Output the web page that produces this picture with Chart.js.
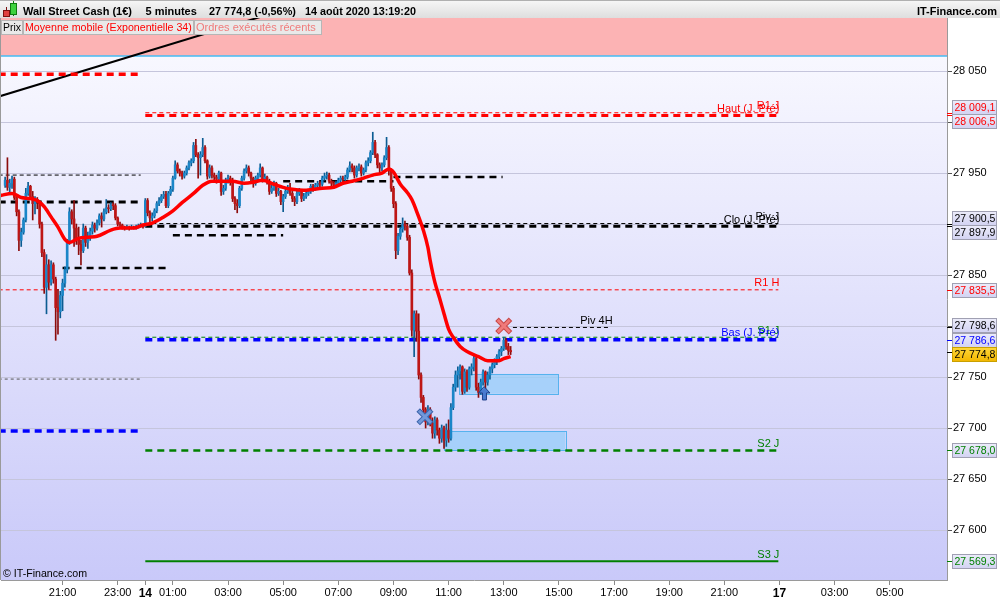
<!DOCTYPE html>
<html lang="fr">
<head>
<meta charset="UTF-8">
<title>Wall Street Cash (1€) - 5 minutes</title>
<script src="https://cdn.jsdelivr.net/npm/chart.js@4.4.1/dist/chart.umd.min.js"></script>
<style>
  body { margin: 0; background: #fff; }
  #wrap { position: relative; width: 1000px; height: 600px; }
</style>
</head>
<body>
<div id="wrap"><canvas id="chart"></canvas></div>
<script>
// time axis: 5-minute slots, slot 0 = jeudi 21:00
const firstSlot = -25;
const firstOpen = 27938;

const closes = [
  27943, 27936, 27940, 27944, 27926, 27912, 27884, 27892, 27904, 27930, 27937, 27927, 27920, 27924, 27921, 27900, 27872, 27838, 27860, 27843, 27860, 27846, 27818, 27814, 27830,
  27842, 27855, 27882, 27912, 27905, 27896, 27885, 27880, 27874, 27896, 27882, 27888,
  27893, 27899, 27896, 27901, 27908, 27905, 27912, 27916, 27915, 27919, 27918, 27906,
  27900, 27899, 27897, 27896, 27897, 27896, 27897, 27896, 27897, 27898, 27899, 27898,
  27923, 27911, 27906, 27908, 27913, 27920, 27923, 27927, 27929, 27918, 27930, 27934,
  27945, 27958, 27952, 27950, 27947, 27950, 27955, 27960, 27962, 27977, 27968, 27965,
  27968, 27975, 27962, 27947, 27955, 27948, 27946, 27944, 27950, 27932, 27935, 27943,
  27945, 27942, 27925, 27920, 27918, 27935, 27945, 27952, 27955, 27950, 27945, 27940,
  27945, 27948, 27955, 27944, 27946, 27942, 27932, 27935, 27940, 27930, 27932, 27922,
  27927, 27932, 27935, 27930, 27925, 27922, 27930, 27932, 27925, 27927, 27930, 27932,
  27937, 27935, 27938, 27940, 27939, 27945, 27947, 27948, 27942, 27940, 27938, 27940,
  27943, 27945, 27944, 27946, 27953, 27957, 27955, 27948, 27955, 27956, 27950, 27953,
  27960, 27962, 27970, 27980, 27968, 27958, 27955, 27958, 27965, 27975, 27952, 27935,
  27920, 27874, 27888, 27895, 27900, 27898, 27887, 27852, 27796, 27812, 27795, 27752,
  27730, 27718, 27706, 27718, 27705, 27695, 27708, 27698, 27690, 27700, 27688, 27698,
  27690, 27720, 27740, 27752, 27756, 27760, 27736, 27755, 27740, 27758, 27760, 27768,
  27740, 27735, 27745, 27755, 27745, 27752, 27758, 27762, 27765, 27770, 27775, 27778,
  27786, 27780, 27776, 27774.8
];
const highs = [
  27946, 27965, 27944, 27947, 27946, 27928, 27914, 27896, 27906, 27935, 27941, 27938, 27932, 27927, 27926, 27923, 27902, 27875, 27870, 27865, 27864, 27862, 27848, 27836, 27834,
  27846, 27858, 27885, 27916, 27914, 27923, 27900, 27897, 27884, 27900, 27898, 27892,
  27896, 27902, 27901, 27904, 27910, 27911, 27915, 27924, 27919, 27921, 27921, 27920,
  27907, 27902, 27900, 27898, 27899, 27898, 27899, 27898, 27899, 27900, 27901, 27900,
  27925, 27925, 27913, 27911, 27915, 27922, 27926, 27929, 27932, 27932, 27932, 27937,
  27947, 27962, 27960, 27954, 27952, 27952, 27957, 27962, 27964, 27980, 27983, 27970,
  27971, 27984, 27977, 27963, 27958, 27957, 27950, 27948, 27952, 27951, 27938, 27945,
  27948, 27947, 27945, 27927, 27924, 27937, 27947, 27954, 27958, 27957, 27951, 27946,
  27947, 27950, 27959, 27956, 27949, 27947, 27944, 27938, 27942, 27941, 27935, 27933,
  27929, 27934, 27938, 27940, 27932, 27927, 27932, 27935, 27933, 27930, 27933, 27934,
  27939, 27939, 27940, 27942, 27942, 27947, 27950, 27951, 27950, 27944, 27942, 27942,
  27945, 27947, 27947, 27948, 27955, 27961, 27959, 27957, 27957, 27959, 27958, 27955,
  27962, 27965, 27972, 27990, 27982, 27969, 27960, 27960, 27967, 27985, 27977, 27954,
  27937, 27922, 27891, 27897, 27906, 27903, 27900, 27889, 27855, 27815, 27815, 27812,
  27754, 27732, 27720, 27722, 27720, 27710, 27711, 27710, 27700, 27703, 27702, 27704,
  27708, 27724, 27743, 27756, 27760, 27762, 27761, 27758, 27757, 27760, 27763, 27771,
  27770, 27744, 27748, 27757, 27756, 27755, 27760, 27764, 27768, 27772, 27777, 27780,
  27789, 27788, 27783, 27780
];
const lows = [
  27936, 27933, 27930, 27935, 27924, 27908, 27874, 27878, 27890, 27902, 27928, 27924, 27904, 27910, 27915, 27896, 27868, 27832, 27812, 27836, 27840, 27842, 27786, 27792, 27808,
  27815, 27838, 27852, 27880, 27900, 27878, 27880, 27870, 27860, 27872, 27878, 27876,
  27884, 27890, 27892, 27894, 27899, 27897, 27903, 27910, 27911, 27913, 27914, 27904,
  27898, 27896, 27895, 27894, 27895, 27894, 27895, 27895, 27895, 27896, 27897, 27896,
  27897, 27908, 27902, 27903, 27906, 27911, 27918, 27921, 27925, 27916, 27916, 27928,
  27932, 27944, 27950, 27947, 27944, 27945, 27948, 27953, 27957, 27960, 27966, 27945,
  27948, 27966, 27960, 27944, 27945, 27945, 27942, 27940, 27942, 27928, 27929, 27933,
  27940, 27938, 27922, 27914, 27911, 27916, 27933, 27943, 27950, 27947, 27942, 27936,
  27938, 27943, 27946, 27941, 27942, 27939, 27929, 27930, 27933, 27927, 27928, 27919,
  27912, 27925, 27930, 27928, 27922, 27918, 27920, 27928, 27922, 27923, 27925, 27928,
  27930, 27932, 27933, 27936, 27936, 27937, 27943, 27944, 27940, 27937, 27935, 27936,
  27938, 27940, 27941, 27942, 27944, 27951, 27951, 27945, 27946, 27952, 27947, 27948,
  27951, 27957, 27960, 27968, 27965, 27955, 27950, 27952, 27956, 27963, 27948, 27932,
  27916, 27866, 27870, 27885, 27892, 27894, 27884, 27850, 27790, 27770, 27785, 27748,
  27725, 27713, 27700, 27703, 27702, 27690, 27690, 27693, 27685, 27686, 27680, 27682,
  27686, 27688, 27718, 27736, 27740, 27748, 27733, 27734, 27736, 27738, 27752, 27756,
  27737, 27730, 27733, 27742, 27730, 27742, 27748, 27754, 27759, 27762, 27767, 27771,
  27776, 27777, 27772, 27772
];

// moyenne mobile exponentielle 34
const emaSlots = [-27, -22, -18, -14, -11, -8, -5, -2, 1, 3, 7, 11, 15, 21, 25, 31, 35, 39, 44, 48, 52, 57, 61,
  65, 70, 74, 79, 83, 87, 92, 96, 100, 105, 109, 113, 118, 122, 126, 131, 135, 139, 142, 144, 147, 150, 152,
  154, 157, 159, 160, 162, 164, 166, 168, 170, 173, 176, 181, 185, 190, 192, 195];
const emaValues = [27928, 27930, 27926, 27925, 27923, 27917, 27907, 27897, 27885, 27882, 27886, 27887, 27888,
  27894, 27896, 27896, 27899, 27901, 27907, 27913, 27921, 27930, 27938, 27942, 27942, 27942, 27940, 27941,
  27943, 27939, 27936, 27934, 27933, 27934, 27935, 27936, 27940, 27942, 27945, 27948, 27950, 27954, 27951,
  27939, 27931, 27924, 27913, 27894, 27877, 27864, 27843, 27828, 27812, 27797, 27789, 27780, 27775, 27770,
  27766, 27766, 27768, 27770];

// oblique (tendance)
const trendSlots = [-27, 86];
const trendValues = [28025.5, 28103];

// niveaux du jour
const dayStart = 36, dayEnd = 311.5;
const dayLevelNames = ['R1 J', 'Haut (J. Pré)', 'Piv J', 'Clo (J. Pré)', 'S1 J', 'Bas (J. Pré)', 'S2 J', 'S3 J'];
const dayLevelValues = [28009.1, 28006.5, 27900.5, 27897.9, 27789.0, 27786.6, 27678.0, 27569.3];
// niveau hebdo
const weekLevelName = 'R1 H';
const weekLevelValue = 27835.5;
// niveaux de la veille
const prevEnd = 34;
const prevLevelNames = ['Haut', 'Piv', 'Clo', 'S1', 'Bas'];
const prevLevelValues = [28046.8, 27948.0, 27921.5, 27748.0, 27697.0];
// pivots 4H
const piv4hValues = [27857, 27889, 27942, 27946, 27798.6];
const piv4hStarts = [0, 48, 96, 144, 196];
const piv4hEnds = [46, 96, 144, 191.5, 238.5];

// zones
const redZoneFloor = 28064.7;
const zoneTops = [27753, 27697];
const zoneBottoms = [27733.6, 27678.4];
const zoneStarts = [172.7, 165.9];
const zoneEnds = [215.8, 218.8];

// ordres exécutés
const crossSlots = [192, 157.7];
const crossValues = [27800, 27711];
const buySlot = 183.6, buyValue = 27727.5;

// étiquettes de l'axe des prix
const priceBoxValues = [28009.1, 28006.5, 27900.5, 27897.9, 27835.5, 27798.6, 27786.6, 27774.8, 27678.0, 27569.3];
const lastPrice = 27774.8;

const xTickSlots = [0, 24, 36, 48, 72, 96, 120, 144, 168, 192, 216, 240, 264, 288, 312, 336, 360];
const xTickLabels = ['21:00', '23:00', '14', '01:00', '03:00', '05:00', '07:00', '09:00', '11:00', '13:00',
  '15:00', '17:00', '19:00', '21:00', '17', '03:00', '05:00'];
const dayTickLabels = ['14', '17'];
const yTicks = [27600, 27650, 27700, 27750, 27800, 27850, 27900, 27950, 28000, 28050];
const yHidden = [27800, 27900, 28000];

const xMin = -26.8, xMax = 384.9;
const yMin = 27551, yMax = 28102;

const FONT = '"Liberation Sans", Arial, sans-serif';
const RED = '#ff0000', BLACK = '#000000', BLUE = '#0000ff', GREEN = '#008000';

const levelStyles = {
  'R1 J': { color: RED, width: 1, dash: [4, 3] },
  'Haut (J. Pré)': { color: RED, width: 3, dash: [7, 5] },
  'Piv J': { color: BLACK, width: 1, dash: [4, 3] },
  'Clo (J. Pré)': { color: BLACK, width: 3, dash: [7, 5] },
  'S1 J': { color: GREEN, width: 1, dash: [4, 3] },
  'Bas (J. Pré)': { color: BLUE, width: 3.5, dash: [7, 5] },
  'S2 J': { color: GREEN, width: 2.5, dash: [7, 5] },
  'S3 J': { color: GREEN, width: 2, dash: [] },
  'R1 H': { color: RED, width: 1, dash: [4, 3] },
  'Haut': { color: RED, width: 3.5, dash: [7, 5] },
  'Piv': { color: BLACK, width: 1, dash: [4, 3] },
  'Clo': { color: BLACK, width: 3, dash: [7, 5] },
  'S1': { color: '#555555', width: 1, dash: [3, 3] },
  'Bas': { color: BLUE, width: 3.5, dash: [7, 5] }
};
const boxTextColors = { 28009.1: RED, 28006.5: RED, 27835.5: RED, 27786.6: BLUE, 27678.0: GREEN, 27569.3: GREEN };

const fmt = (v, d) => {
  const [i, f] = v.toFixed(d).split('.');
  return i.replace(/\B(?=(\d{3})+(?!\d))/g, ' ') + (f ? ',' + f : '');
};

// set a font and shrink it if the text would be wider than maxW
function fitFont(ctx, text, size, maxW, weight) {
  const w = weight ? weight + ' ' : '';
  ctx.font = w + size + 'px ' + FONT;
  const m = ctx.measureText(text).width;
  if (m > maxW) ctx.font = w + (size * maxW / m).toFixed(2) + 'px ' + FONT;
}

// candles
const slots = closes.map((_, i) => firstSlot + i);
const opens = closes.map((c, i) => i === 0 ? firstOpen : closes[i - 1]);
const isUp = i => closes[i] >= opens[i];
const bodies = slots.map((s, i) => ({ x: s, y: [opens[i], closes[i]] }));
const wicks = slots.map((s, i) => ({
  x: s,
  y: [Math.min(lows[i], opens[i], closes[i]), Math.max(highs[i], opens[i], closes[i])]
}));

function levelSet(x0, x1, v, st) {
  return {
    type: 'line', data: [{ x: x0, y: v }, { x: x1, y: v }],
    borderColor: st.color, borderWidth: st.width, borderDash: st.dash,
    pointRadius: 0, order: 4
  };
}

const levelSets = [];
dayLevelNames.forEach((n, i) => levelSets.push(levelSet(dayStart, dayEnd, dayLevelValues[i], levelStyles[n])));
levelSets.push(levelSet(xMin - 1, dayEnd, weekLevelValue, levelStyles[weekLevelName]));
prevLevelNames.forEach((n, i) => levelSets.push(levelSet(xMin - 1, prevEnd, prevLevelValues[i], levelStyles[n])));
piv4hValues.forEach((v, i) => {
  const cur = i === piv4hValues.length - 1;
  levelSets.push(levelSet(piv4hStarts[i], piv4hEnds[i], v,
    cur ? { color: BLACK, width: 1, dash: [4, 3] } : { color: BLACK, width: 2.5, dash: [7, 5] }));
});

function drawCross(ctx, x, y, outer, inner) {
  const r = 5;
  ctx.lineCap = 'square';
  [[outer, 5], [inner, 3]].forEach(([c, w]) => {
    ctx.strokeStyle = c; ctx.lineWidth = w;
    ctx.beginPath();
    ctx.moveTo(x - r, y - r); ctx.lineTo(x + r, y + r);
    ctx.moveTo(x + r, y - r); ctx.lineTo(x - r, y + r);
    ctx.stroke();
  });
}

const decor = {
  id: 'decor',
  beforeDraw(chart) {
    const { ctx, chartArea: a } = chart;
    const ys = chart.scales.y;
    ctx.save();
    ctx.fillStyle = '#ffffff';
    ctx.fillRect(0, 0, chart.width, chart.height);
    const g = ctx.createLinearGradient(0, a.top, 0, a.bottom);
    g.addColorStop(0, '#fbfbff');
    g.addColorStop(1, '#c9c9f9');
    ctx.fillStyle = g;
    ctx.fillRect(a.left, a.top, a.right - a.left, a.bottom - a.top);
    const yb = ys.getPixelForValue(redZoneFloor);
    ctx.fillStyle = '#fcb3b4';
    ctx.fillRect(a.left, a.top, a.right - a.left, yb - a.top);
    ctx.strokeStyle = '#45bdf5';
    ctx.lineWidth = 1.5;
    ctx.beginPath(); ctx.moveTo(a.left, yb); ctx.lineTo(a.right, yb); ctx.stroke();
    ctx.restore();
  },
  beforeDatasetsDraw(chart) {
    const { ctx } = chart;
    const xs = chart.scales.x, ys = chart.scales.y;
    ctx.save();
    zoneTops.forEach((t, i) => {
      const x0 = xs.getPixelForValue(zoneStarts[i]), x1 = xs.getPixelForValue(zoneEnds[i]);
      const y0 = ys.getPixelForValue(t), y1 = ys.getPixelForValue(zoneBottoms[i]);
      ctx.fillStyle = 'rgba(150, 205, 250, 0.75)';
      ctx.fillRect(x0, y0, x1 - x0, y1 - y0);
      ctx.strokeStyle = '#56b2ee';
      ctx.lineWidth = 1;
      ctx.strokeRect(Math.round(x0) + 0.5, Math.round(y0) + 0.5, Math.round(x1 - x0), Math.round(y1 - y0));
    });
    ctx.restore();
  },
  afterDatasetsDraw(chart) {
    const { ctx } = chart;
    const xs = chart.scales.x, ys = chart.scales.y;
    ctx.save();
    // executed orders
    drawCross(ctx, xs.getPixelForValue(crossSlots[0]), ys.getPixelForValue(crossValues[0]), '#c84848', '#f07a7a');
    drawCross(ctx, xs.getPixelForValue(crossSlots[1]), ys.getPixelForValue(crossValues[1]), '#3c64aa', '#7198da');
    const ax = xs.getPixelForValue(buySlot), ab = ys.getPixelForValue(buyValue);
    const at = ab - 13;
    ctx.beginPath();
    ctx.moveTo(ax, at); ctx.lineTo(ax + 5.5, at + 6); ctx.lineTo(ax + 2, at + 6); ctx.lineTo(ax + 2, ab);
    ctx.lineTo(ax - 2, ab); ctx.lineTo(ax - 2, at + 6); ctx.lineTo(ax - 5.5, at + 6); ctx.closePath();
    ctx.fillStyle = '#4a7bd0'; ctx.fill();
    ctx.strokeStyle = '#1e3f88'; ctx.lineWidth = 1; ctx.stroke();

    // level labels
    ctx.font = '11px ' + FONT;
    ctx.textAlign = 'right';
    ctx.textBaseline = 'bottom';
    const xr = xs.getPixelForValue(dayEnd) + 1;
    dayLevelNames.forEach((n, i) => {
      ctx.fillStyle = levelStyles[n].color;
      ctx.fillText(n, xr, ys.getPixelForValue(dayLevelValues[i]) - 1);
    });
    ctx.fillStyle = RED;
    ctx.fillText(weekLevelName, xr, ys.getPixelForValue(weekLevelValue) - 1);
    ctx.fillStyle = BLACK;
    const k = piv4hValues.length - 1;
    ctx.fillText('Piv 4H', xs.getPixelForValue(piv4hEnds[k]) + 2, ys.getPixelForValue(piv4hValues[k]) - 1);
    ctx.restore();
  },
  afterDraw(chart) {
    const { ctx, chartArea: a } = chart;
    const ys = chart.scales.y;
    ctx.save();
    // left border
    ctx.strokeStyle = '#9a9a9a'; ctx.lineWidth = 1;
    ctx.beginPath(); ctx.moveTo(0.5, a.top); ctx.lineTo(0.5, a.bottom); ctx.stroke();

    // price boxes on the right axis
    const boxH = 14.5;
    const items = priceBoxValues.map(v => ({ v, y: ys.getPixelForValue(v) })).sort((p, q) => p.y - q.y);
    const groups = [];
    items.forEach(it => {
      const g = groups[groups.length - 1];
      if (g && it.y - g[g.length - 1].y < boxH) g.push(it); else groups.push([it]);
    });
    groups.forEach(g => {
      const m = g.reduce((s, it) => s + it.y, 0) / g.length;
      g.forEach((it, j) => { it.cy = m + (j - (g.length - 1) / 2) * boxH; });
    });
    ctx.textAlign = 'left';
    ctx.textBaseline = 'middle';
    items.forEach(it => {
      const col = boxTextColors[it.v] || BLACK;
      const last = it.v === lastPrice;
      ctx.strokeStyle = col; ctx.lineWidth = 1;
      ctx.beginPath(); ctx.moveTo(a.right, Math.round(it.y) + 0.5); ctx.lineTo(a.right + 5, Math.round(it.y) + 0.5); ctx.stroke();
      const top = Math.round(it.cy - 7) + 0.5;
      const bg = ctx.createLinearGradient(0, top, 0, top + 14);
      bg.addColorStop(0, last ? '#ffd83a' : '#ececfa');
      bg.addColorStop(1, last ? '#f2b600' : '#d2d2f2');
      ctx.fillStyle = bg;
      ctx.fillRect(952.5, top, 44, 14);
      ctx.strokeStyle = last ? '#c9a000' : '#a0a0b2';
      ctx.strokeRect(952.5, top, 44, 14);
      ctx.fillStyle = col;
      const t = fmt(it.v, 1);
      fitFont(ctx, t, 11, 41);
      ctx.fillText(t, 954.5, top + 7.5);
    });

    // header
    const hg = ctx.createLinearGradient(0, 0, 0, 18);
    hg.addColorStop(0, '#f7f7f7'); hg.addColorStop(1, '#dedede');
    ctx.fillStyle = hg; ctx.fillRect(0, 0, chart.width, 18);
    ctx.strokeStyle = '#b0b0b0';
    ctx.beginPath(); ctx.moveTo(0, 0.5); ctx.lineTo(chart.width, 0.5); ctx.stroke();
    // icon
    ctx.strokeStyle = '#7a1010';
    ctx.beginPath(); ctx.moveTo(6.5, 7); ctx.lineTo(6.5, 17); ctx.stroke();
    ctx.fillStyle = '#e04040'; ctx.fillRect(3.5, 10.5, 6, 6); ctx.strokeRect(3.5, 10.5, 6, 6);
    ctx.strokeStyle = '#107a10';
    ctx.beginPath(); ctx.moveTo(13.5, 1); ctx.lineTo(13.5, 16); ctx.stroke();
    ctx.fillStyle = '#3ed23e'; ctx.fillRect(10.5, 3.5, 6, 11); ctx.strokeRect(10.5, 3.5, 6, 11);

    ctx.fillStyle = BLACK;
    ctx.textBaseline = 'alphabetic';
    ctx.textAlign = 'left';
    const head = [['Wall Street Cash (1€)', 23, 113], ['5 minutes', 145.5, 54], ['27 774,8 (-0,56%)', 209, 87], ['14 août 2020 13:19:20', 305, 111]];
    head.forEach(([t, x, w]) => { fitFont(ctx, t, 11, w, 'bold'); ctx.fillText(t, x, 15); });
    ctx.textAlign = 'right';
    fitFont(ctx, 'IT-Finance.com', 11, 82, 'bold');
    ctx.fillText('IT-Finance.com', 997, 15);

    // legend row
    const legend = [['Prix', BLACK, 1, 22], ['Moyenne mobile (Exponentielle 34)', RED, 23, 193], ['Ordres exécutés récents', '#f07c7c', 194, 321]];
    ctx.textAlign = 'left';
    ctx.textBaseline = 'middle';
    legend.forEach(([t, c, x0, x1]) => {
      ctx.fillStyle = '#e9e9e9';
      ctx.fillRect(x0 + 0.5, 20.5, x1 - x0, 14);
      ctx.strokeStyle = '#b6b6b6';
      ctx.strokeRect(x0 + 0.5, 20.5, x1 - x0, 14);
      ctx.fillStyle = c;
      fitFont(ctx, t, 11, x1 - x0 - 3);
      ctx.fillText(t, x0 + 2, 28);
    });

    // copyright
    ctx.fillStyle = BLACK;
    fitFont(ctx, '© IT-Finance.com', 11, 84);
    ctx.fillText('© IT-Finance.com', 3, 574.5);
    ctx.restore();
  }
};

new Chart(document.getElementById('chart'), {
  type: 'bar',
  data: {
    datasets: [
      {
        type: 'line', data: emaSlots.map((s, i) => ({ x: s, y: emaValues[i] })),
        borderColor: '#ff0000', borderWidth: 3.5, pointRadius: 0, cubicInterpolationMode: 'monotone', order: 1
      },
      {
        type: 'bar', data: bodies, barThickness: 2, grouped: false, minBarLength: 1, borderWidth: 0,
        backgroundColor: c => isUp(c.dataIndex) ? '#1b86c8' : '#be1616', order: 2
      },
      {
        type: 'bar', data: wicks, barThickness: 1, grouped: false, borderWidth: 0,
        backgroundColor: c => isUp(c.dataIndex) ? '#0c5c92' : '#8c0c0c', order: 3
      },
      ...levelSets,
      {
        type: 'line', data: trendSlots.map((s, i) => ({ x: s, y: trendValues[i] })),
        borderColor: '#000000', borderWidth: 2, pointRadius: 0, order: 4
      }
    ]
  },
  options: {
    responsive: true,
    maintainAspectRatio: false,
    animation: false,
    events: [],
    layout: { padding: { left: 1, top: 18, right: 0, bottom: 0 } },
    plugins: { legend: { display: false }, tooltip: { enabled: false } },
    scales: {
      x: {
        type: 'linear', min: xMin, max: xMax, offset: false, bounds: 'data',
        afterFit: s => { s.height = 20; },
        afterBuildTicks: s => { s.ticks = xTickSlots.map(v => ({ value: v })); },
        grid: { drawOnChartArea: false, drawTicks: true, tickLength: 5, color: '#8a8a8a', offset: false },
        border: { display: true, color: '#9a9a9a' },
        ticks: {
          autoSkip: false, maxRotation: 0, padding: 1, color: '#000',
          font: c => dayTickLabels.includes(xTickLabels[c.index])
            ? { family: FONT, size: 12, weight: 'bold' } : { family: FONT, size: 11 },
          callback: (v, i) => xTickLabels[i]
        }
      },
      y: {
        position: 'right', min: yMin, max: yMax, beginAtZero: false, bounds: 'data',
        afterFit: s => { s.width = 53; },
        afterBuildTicks: s => { s.ticks = yTicks.map(v => ({ value: v })); },
        grid: { color: '#c5c5dc', tickLength: 5, tickColor: '#555555' },
        border: { display: true, color: '#9a9a9a' },
        ticks: {
          padding: 1, color: '#000',
          font: { family: FONT, size: 11 },
          callback: v => yHidden.includes(v) ? '' : fmt(v, 0)
        }
      }
    }
  },
  plugins: [decor]
});
</script>
</body>
</html>
